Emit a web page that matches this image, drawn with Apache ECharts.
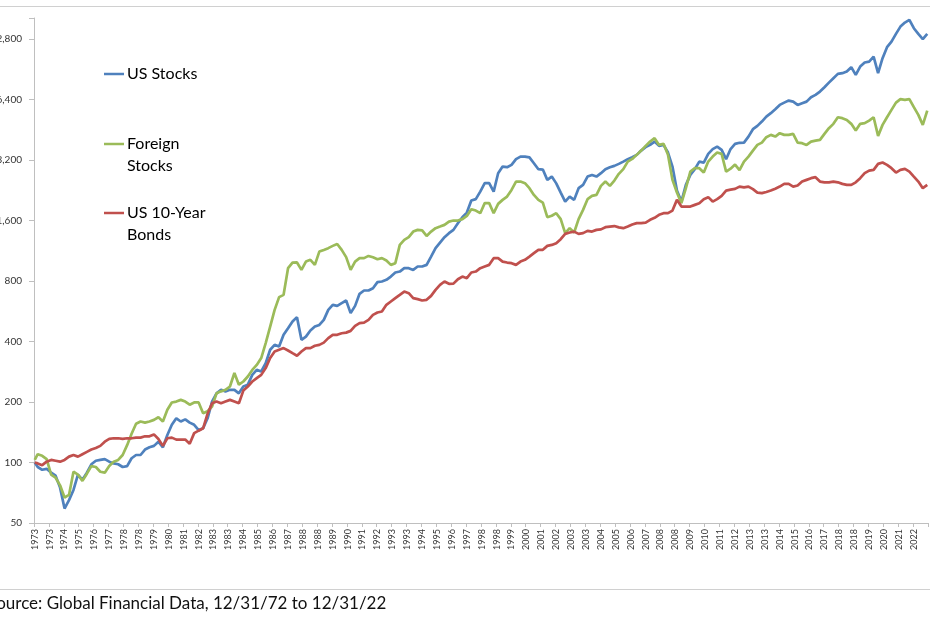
<!DOCTYPE html>
<html>
<head>
<meta charset="utf-8">
<script src="https://cdn.jsdelivr.net/npm/echarts@6/dist/echarts.min.js"></script>
<style>
html,body{margin:0;padding:0;background:#ffffff;}
#chart{width:930px;height:620px;}
</style>
</head>
<body>
<div id="chart"></div>
<script>
// ---- Data (growth of 100, 12/31/72 = 100; first value Jan 1973, then quarter ends) ----
const seriesNames = ['US Stocks', 'Foreign Stocks', 'US 10-Year Bonds'];
const yTickLabels = [50, 100, 200, 400, 800, 1600, 3200, 6400, 12800];
const sourceText = 'Source: Global Financial Data, 12/31/72 to 12/31/22';

const usStocks = [100,
  95,92,93,89, 86,75,59,65, 73,87,82,89, 98,102,103,104, 101,99,98,95,
  96,105,109,109, 116,119,121,127, 119,137,154,166, 160,164,158,154, 145,148,166,201,
  221,230,226,230, 230,221,239,244, 273,289,284,312, 364,385,378,432, 466,503,529,408,
  423,454,475,484, 513,575,609,602, 621,640,554,602, 691,718,718,737, 790,796,811,842,
  882,892,927,927, 909,945,945,963, 1059,1166,1243,1322, 1385,1438,1553,1663, 1753,2012,2045,2230,
  2455,2455,2230,2752, 2971,2949,3028,3233, 3331,3331,3300,3087, 2882,2870,2550,2648, 2450,2205,1989,2106,
  2028,2319,2408,2649, 2700,2649,2753,2883, 2949,2994,3063,3145, 3233,3308,3397,3568, 3710,3808,3956,3765,
  3808,3488,2971,2256, 1989,2408,2700,2883, 3145,3110,3434,3625, 3735,3597,3233,3630, 3850,3900,3910,4188,
  4559,4735,4975,5267, 5476,5733,6021,6182, 6326,6253,6021,6140, 6253,6579,6752,7015, 7377,7776,8180,8593,
  8660,8822,9279,8493, 9340,9783,9894,10477, 8660,10281,11667,12440, 13586,14770,15470,15950, 14500,13586,12790,13586
];

const foreignStocks = [103,
  110,108,104,87, 84,77,67,69, 90,87,81,88, 96,95,90,89, 96,101,103,109,
  122,139,156,160, 158,160,163,168, 160,183,199,201, 205,201,194,199, 199,176,180,190,
  221,226,230,239, 279,244,253,268, 289,306,331,393, 475,575,665,683, 927,989,990,909,
  1000,1020,963,1121, 1143,1166,1197,1224, 1143,1052,909,1000, 1040,1040,1067,1050, 1027,1040,1012,963,
  982,1211,1282,1322, 1410,1438,1430,1342, 1410,1466,1494,1523, 1581,1600,1600,1626, 1688,1823,1794,1741,
  1953,1953,1741,1937, 2028,2106,2274,2501, 2501,2455,2319,2147, 2028,1967,1663,1690, 1741,1626,1385,1466,
  1395,1626,1808,2045, 2123,2148,2381,2501, 2381,2530,2732,2883, 3145,3244,3397,3568, 3765,3956,4112,3808,
  3854,3397,2550,2205, 1952,2319,2805,2916, 2916,2773,3145,3331, 3488,3434,2805,2900, 3040,2850,3145,3331,
  3568,3808,3910,4159, 4271,4188,4354,4271, 4271,4320,3910,3884, 3808,3956,4001,4034, 4320,4611,4845,5230,
  5172,5070,4845,4487, 4845,4885,5030,5230, 4222,4790,5230,5688, 6182,6432,6378,6432, 5866,5370,4790,5642
];

const usBonds = [100,
  99,97,101,103, 102,101,103,107, 109,107,110,113, 116,118,121,127, 131,132,132,131,
  132,132,133,133, 135,135,138,131, 121,132,133,130, 130,130,124,140, 144,148,175,197,
  201,197,201,205, 201,197,228,239, 253,263,273,295, 331,357,364,371, 361,350,340,357,
  371,371,381,385, 395,416,432,432, 440,443,452,479, 494,497,513,543, 558,564,609,633,
  658,683,709,696, 658,650,640,645, 675,723,766,796, 775,777,817,842, 827,882,892,927,
  945,963,1040,1040, 1000,989,982,963, 1000,1020,1059,1101, 1144,1144,1197,1210, 1235,1292,1374,1395,
  1410,1374,1385,1422, 1410,1438,1446,1483, 1494,1502,1480,1466, 1494,1528,1553,1553, 1562,1613,1651,1708,
  1741,1741,1794,2028, 1878,1878,1878,1915, 1952,2045,2092,1989, 2045,2123,2256,2280, 2300,2360,2340,2362,
  2293,2205,2190,2220, 2256,2305,2362,2436, 2436,2362,2390,2501, 2550,2600,2630,2501, 2480,2480,2501,2480,
  2436,2408,2408,2480, 2600,2753,2836,2860, 3063,3110,3028,2916, 2773,2860,2893,2805, 2648,2501,2319,2408
];

const seriesColors = ['#4F81BD', '#9BBB59', '#C0504D'];

// ---- Category axis: one category per month, Jan 1973 .. Dec 2022 ----
const months = [];
for (let y = 1973; y <= 2022; y++) {
  for (let m = 1; m <= 12; m++) months.push(y + '-' + String(m).padStart(2, '0'));
}
// Sample dates of the data arrays: Jan 1973, then each quarter end
const sampleMonths = ['1973-01'];
for (let y = 1973; y <= 2022; y++) {
  for (const m of ['03', '06', '09', '12']) sampleMonths.push(y + '-' + m);
}

// log2 axis starting at 50: values are expressed relative to the axis base
const AXIS_BASE = 50;
const toPairs = arr => arr.map((v, i) => [sampleMonths[i], v / AXIS_BASE]);

const FONT = 'Lato, "Open Sans", "DejaVu Sans", sans-serif';

const chart = echarts.init(document.getElementById('chart'), null, {renderer: 'canvas'});

const legendItems = [
  {lines: 'US Stocks', y: 74, color: seriesColors[0]},
  {lines: 'Foreign\nStocks', y: 144, color: seriesColors[1]},
  {lines: 'US 10-Year\nBonds', y: 213, color: seriesColors[2]}
];

const graphic = [
  {type: 'line', silent: true, shape: {x1: 0, y1: 6.5, x2: 930, y2: 6.5}, style: {stroke: '#d0d0d0', lineWidth: 1}},
  {type: 'line', silent: true, shape: {x1: 0, y1: 589.5, x2: 930, y2: 589.5}, style: {stroke: '#d0d0d0', lineWidth: 1}},
  {type: 'text', silent: true, x: -13, y: 604, style: {text: sourceText, font: '17px ' + FONT, fill: '#111111', align: 'left', verticalAlign: 'middle'}}
];
legendItems.forEach(it => {
  graphic.push({type: 'line', silent: true, shape: {x1: 104, y1: it.y, x2: 124, y2: it.y}, style: {stroke: it.color, lineWidth: 2.5}});
  graphic.push({type: 'text', silent: true, x: 127, y: it.y - 11, style: {text: it.lines, font: '16px ' + FONT, fill: '#000000', lineHeight: 22, align: 'left', verticalAlign: 'top'}});
});

const option = {
  animation: false,
  backgroundColor: '#ffffff',
  grid: {left: 34, right: 2, top: 18, bottom: 97, containLabel: false, outerBoundsMode: 'none'},
  xAxis: {
    type: 'category',
    data: months,
    boundaryGap: true,
    axisLine: {lineStyle: {color: '#bfbfbf', width: 1}},
    axisTick: {show: true, interval: 9, length: 4, lineStyle: {color: '#bfbfbf'}},
    axisLabel: {
      interval: 9, rotate: 90, margin: 6, fontSize: 9, fontFamily: FONT, color: '#333333',
      formatter: v => v.slice(0, 4)
    },
    splitLine: {show: false}
  },
  yAxis: {
    type: 'log',
    logBase: 2,
    min: 1,
    max: 326,
    axisLine: {show: true, lineStyle: {color: '#bfbfbf', width: 1}},
    axisTick: {show: true, length: 5, lineStyle: {color: '#bfbfbf'}},
    axisLabel: {
      margin: 12, fontSize: 10, fontFamily: FONT, color: '#333333',
      formatter: v => {
        const val = Math.round(v * AXIS_BASE);
        return yTickLabels.includes(val) ? val.toLocaleString('en-US') : '';
      }
    },
    splitLine: {show: false}
  },
  graphic: graphic,
  series: [usStocks, foreignStocks, usBonds].map((arr, i) => ({
    name: seriesNames[i],
    type: 'line',
    data: toPairs(arr),
    showSymbol: false,
    symbol: 'none',
    smooth: false,
    lineStyle: {color: seriesColors[i], width: 2.7},
    itemStyle: {color: seriesColors[i]},
    z: 2 + i
  }))
};

chart.setOption(option);
</script>
</body>
</html>
